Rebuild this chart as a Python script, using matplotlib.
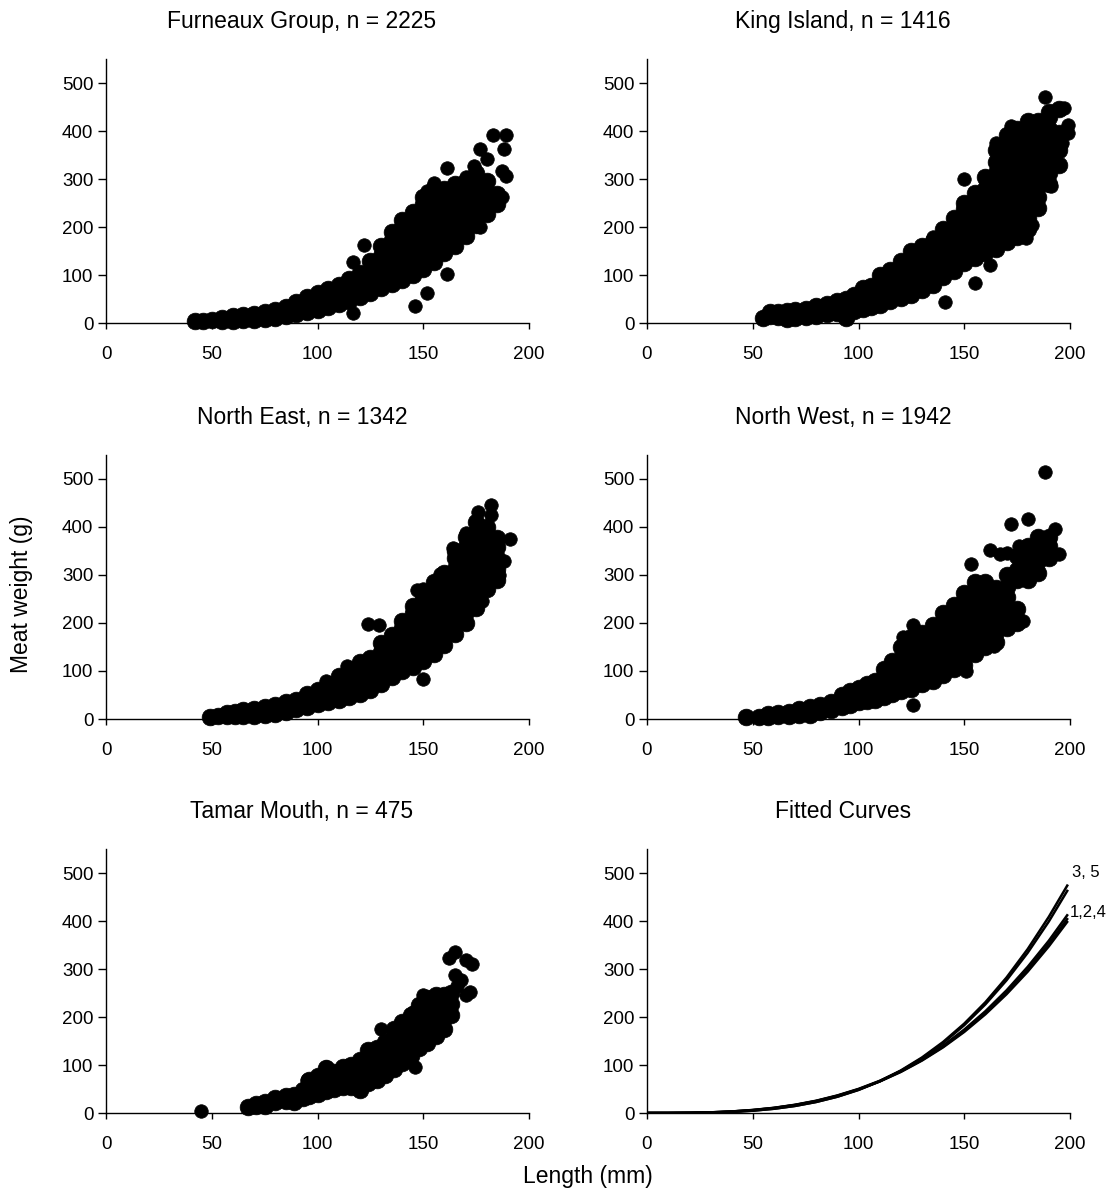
import matplotlib
matplotlib.use("Agg")
import matplotlib.pyplot as plt

plt.rcParams['font.family'] = ['Liberation Sans', 'DejaVu Sans']

# ---------------- data ----------------
titles = ["Furneaux Group, n = 2225", "King Island, n = 1416",
          "North East, n = 1342", "North West, n = 1942",
          "Tamar Mouth, n = 475", "Fitted Curves"]
x_ticks = [0, 50, 100, 150, 200]
y_ticks = [0, 100, 200, 300, 400, 500]

furneaux_core = [
    (42, 4), (46, 5), (50, 6), (55, 5), (55, 10), (60, 5), (60, 14), (65, 6), (65, 16),
    (70, 6), (70, 19), (75, 8), (75, 22), (80, 10), (80, 28), (85, 14), (85, 34),
    (90, 18), (90, 44), (95, 22), (95, 38), (95, 55), (100, 28), (100, 45), (100, 62),
    (105, 33), (105, 52), (105, 70), (110, 40), (110, 60), (110, 80), (115, 46), (115, 70),
    (115, 92), (120, 54), (120, 78), (120, 104), (125, 62), (125, 85), (125, 108), (125, 130),
    (130, 72), (130, 95), (130, 118), (130, 140), (130, 160), (135, 82), (135, 105),
    (135, 128), (135, 150), (135, 172), (135, 190), (140, 90), (140, 112), (140, 135),
    (140, 158), (140, 180), (140, 200), (140, 215), (145, 100), (145, 122), (145, 145),
    (145, 168), (145, 190), (145, 212), (145, 232), (150, 112), (150, 135), (150, 158),
    (150, 180), (150, 202), (150, 225), (150, 248), (150, 262), (155, 128), (155, 150),
    (155, 172), (155, 195), (155, 218), (155, 240), (155, 262), (155, 282), (160, 145),
    (160, 168), (160, 190), (160, 212), (160, 235), (160, 258), (160, 280), (165, 160),
    (165, 182), (165, 205), (165, 228), (165, 250), (165, 272), (165, 290), (170, 182),
    (170, 205), (170, 228), (170, 250), (170, 272), (170, 295), (175, 205), (175, 228),
    (175, 250), (175, 272), (175, 295), (175, 312), (180, 228), (180, 250), (180, 272),
    (180, 295), (185, 248), (185, 268)]
furneaux_outliers = [
    (183, 392), (189, 392), (188, 362), (177, 363), (180, 342), (174, 328), (161, 322),
    (187, 316), (189, 307), (187, 263), (146, 35), (152, 62), (161, 102), (117, 21),
    (122, 162), (117, 128), (177, 200), (170, 305), (155, 292), (152, 275)]

king_core = [
    (55, 10), (58, 15), (58, 22), (62, 12), (62, 22), (66, 8), (66, 26), (70, 10), (70, 28),
    (75, 12), (75, 30), (80, 15), (80, 35), (85, 18), (85, 40), (90, 20), (90, 45), (94, 10),
    (94, 30), (94, 50), (98, 25), (98, 42), (98, 58), (102, 30), (102, 50), (102, 72),
    (106, 34), (106, 55), (106, 78), (110, 38), (110, 60), (110, 85), (110, 100), (115, 45),
    (115, 68), (115, 92), (115, 110), (120, 52), (120, 75), (120, 98), (120, 120), (120, 130),
    (125, 58), (125, 82), (125, 105), (125, 128), (125, 150), (130, 68), (130, 92), (130, 115),
    (130, 138), (130, 160), (135, 80), (135, 102), (135, 125), (135, 148), (135, 170),
    (140, 95), (140, 118), (140, 140), (140, 162), (140, 185), (140, 195), (145, 108),
    (145, 130), (145, 152), (145, 175), (145, 198), (145, 218), (150, 125), (150, 148),
    (150, 170), (150, 192), (150, 215), (150, 238), (150, 250), (155, 135), (155, 158),
    (155, 180), (155, 202), (155, 225), (155, 248), (155, 270), (160, 145), (160, 168),
    (160, 190), (160, 212), (160, 235), (160, 258), (160, 280), (160, 305), (165, 155),
    (165, 178), (165, 200), (165, 222), (165, 245), (165, 268), (165, 290), (165, 312),
    (165, 335), (165, 360), (170, 168), (170, 190), (170, 212), (170, 235), (170, 258),
    (170, 280), (170, 302), (170, 325), (170, 348), (170, 370), (170, 392), (175, 180),
    (175, 202), (175, 225), (175, 248), (175, 270), (175, 292), (175, 315), (175, 338),
    (175, 360), (175, 382), (175, 405), (180, 195), (180, 218), (180, 240), (180, 262),
    (180, 285), (180, 308), (180, 330), (180, 352), (180, 375), (180, 398), (180, 420),
    (185, 240), (185, 262), (185, 285), (185, 308), (185, 330), (185, 352), (185, 375),
    (185, 398), (185, 420), (190, 290), (190, 312), (190, 335), (190, 358), (190, 380),
    (190, 405), (190, 430), (190, 440), (195, 330), (195, 360), (195, 395), (195, 445)]
king_outliers = [
    (188, 470), (197, 448), (199, 412), (199, 395), (196, 375), (193, 327), (191, 285),
    (182, 205), (179, 178), (162, 120), (155, 83), (141, 44), (150, 300), (135, 180),
    (172, 410), (165, 375), (183, 248)]

northeast_core = [
    (49, 5), (53, 7), (57, 6), (57, 12), (61, 6), (61, 15), (65, 6), (65, 18), (70, 6),
    (70, 20), (75, 8), (75, 25), (80, 10), (80, 30), (85, 14), (85, 35), (90, 20), (90, 40),
    (95, 25), (95, 42), (95, 52), (100, 32), (100, 50), (100, 60), (105, 36), (105, 55),
    (105, 72), (110, 40), (110, 60), (110, 80), (110, 90), (115, 46), (115, 68), (115, 90),
    (115, 105), (120, 52), (120, 75), (120, 98), (120, 118), (125, 60), (125, 82), (125, 105),
    (125, 128), (130, 72), (130, 95), (130, 118), (130, 140), (130, 158), (135, 88),
    (135, 110), (135, 132), (135, 155), (135, 175), (140, 100), (140, 122), (140, 145),
    (140, 168), (140, 190), (140, 205), (145, 108), (145, 130), (145, 152), (145, 175),
    (145, 198), (145, 220), (145, 235), (150, 120), (150, 142), (150, 165), (150, 188),
    (150, 210), (150, 232), (150, 255), (150, 265), (155, 135), (155, 158), (155, 180),
    (155, 202), (155, 225), (155, 248), (155, 270), (155, 285), (160, 155), (160, 178),
    (160, 200), (160, 222), (160, 245), (160, 268), (160, 290), (160, 305), (165, 178),
    (165, 200), (165, 222), (165, 245), (165, 268), (165, 290), (165, 312), (165, 335),
    (165, 350), (170, 200), (170, 222), (170, 245), (170, 268), (170, 290), (170, 312),
    (170, 335), (170, 358), (170, 380), (175, 232), (175, 255), (175, 278), (175, 300),
    (175, 322), (175, 345), (175, 368), (175, 390), (175, 410), (180, 270), (180, 292),
    (180, 315), (180, 338), (180, 360), (180, 382), (180, 400), (185, 290), (185, 312),
    (185, 335), (185, 358), (185, 378)]
northeast_outliers = [
    (124, 198), (129, 196), (114, 110), (104, 80), (150, 84), (147, 268), (158, 303),
    (164, 357), (170, 388), (176, 431), (182, 445), (182, 425), (191, 376), (188, 330),
    (186, 300), (178, 245), (150, 270), (146, 225)]

northwest_core = [
    (47, 5), (53, 5), (57, 5), (57, 10), (62, 6), (62, 12), (67, 6), (67, 15), (72, 8),
    (72, 20), (77, 8), (77, 24), (82, 14), (82, 30), (87, 18), (87, 35), (92, 24), (92, 40),
    (92, 50), (96, 30), (96, 48), (96, 58), (100, 36), (100, 52), (100, 65), (104, 38),
    (104, 55), (104, 72), (108, 40), (108, 60), (108, 80), (112, 45), (112, 68), (112, 90),
    (112, 105), (116, 52), (116, 75), (116, 98), (116, 120), (120, 58), (120, 80), (120, 102),
    (120, 125), (120, 150), (125, 62), (125, 85), (125, 108), (125, 130), (125, 155),
    (125, 170), (130, 72), (130, 95), (130, 118), (130, 140), (130, 162), (130, 180),
    (135, 80), (135, 102), (135, 125), (135, 148), (135, 170), (135, 195), (140, 92),
    (140, 115), (140, 138), (140, 160), (140, 182), (140, 205), (140, 220), (145, 105),
    (145, 128), (145, 150), (145, 172), (145, 195), (145, 218), (145, 238), (150, 112),
    (150, 135), (150, 158), (150, 180), (150, 202), (150, 225), (150, 248), (150, 262),
    (155, 135), (155, 158), (155, 180), (155, 202), (155, 225), (155, 248), (155, 270),
    (155, 285), (160, 150), (160, 172), (160, 195), (160, 218), (160, 240), (160, 262),
    (160, 285), (165, 160), (165, 182), (165, 205), (165, 228), (165, 250), (165, 272),
    (170, 190), (170, 210), (170, 232), (170, 255), (170, 275), (170, 300), (175, 200),
    (175, 230), (175, 290), (175, 310), (175, 340), (180, 290), (180, 320), (180, 345),
    (180, 360), (185, 305), (185, 330), (185, 350), (185, 380), (190, 335), (190, 360),
    (190, 380)]
northwest_outliers = [
    (188, 515), (172, 407), (180, 416), (193, 395), (195, 343), (162, 353), (153, 322),
    (167, 343), (121, 171), (126, 196), (126, 29), (151, 99), (164, 153), (178, 204),
    (174, 200), (176, 360), (170, 345)]

tamar_core = [
    (67, 12), (71, 14), (71, 18), (75, 15), (75, 22), (80, 22), (80, 32), (85, 25),
    (85, 35), (89, 22), (89, 38), (93, 32), (93, 48), (96, 36), (96, 55), (96, 68), (100, 40),
    (100, 60), (100, 78), (104, 45), (104, 68), (104, 94), (108, 50), (108, 70), (108, 85),
    (112, 55), (112, 75), (112, 95), (116, 55), (116, 78), (116, 100), (120, 48), (120, 70),
    (120, 92), (120, 110), (124, 62), (124, 85), (124, 108), (124, 132), (128, 68), (128, 90),
    (128, 112), (128, 135), (132, 80), (132, 102), (132, 125), (132, 148), (136, 92),
    (136, 115), (136, 138), (136, 160), (136, 175), (140, 105), (140, 128), (140, 150),
    (140, 172), (140, 190), (144, 118), (144, 140), (144, 162), (144, 185), (144, 205),
    (148, 135), (148, 158), (148, 180), (148, 202), (148, 225), (152, 145), (152, 168),
    (152, 190), (152, 212), (152, 240), (156, 160), (156, 182), (156, 205), (156, 228),
    (156, 245), (160, 175), (160, 198), (160, 220), (160, 245), (163, 205), (163, 228),
    (163, 250)]
tamar_outliers = [
    (45, 5), (146, 96), (130, 176), (104, 96), (95, 69), (162, 323), (165, 336), (170, 318),
    (173, 311), (165, 287), (168, 277), (172, 253), (170, 246), (166, 265), (150, 246),
    (145, 211)]

# fitted curves, values read at these lengths
curve_len = [0, 10, 20, 30, 40, 50, 60, 70, 80, 90, 100, 110, 120, 130, 140, 150, 160, 170, 180, 190, 199]
curve_1 = [0, 0.044, 0.36, 1.25, 3.0, 5.9, 10.3, 16.5, 24.8, 35.6, 49.1, 65.6, 85.5, 109.2, 136.8, 168.9, 205.7, 247.5, 294.5, 347.3, 400]
curve_2 = [0, 0.05, 0.38, 1.3, 3.1, 6.1, 10.5, 16.8, 25.1, 36.0, 49.5, 66.0, 86.2, 110.2, 138.3, 171.0, 208.5, 251.0, 299.0, 352.5, 406]
curve_4 = [0, 0.05, 0.40, 1.35, 3.2, 6.3, 10.8, 17.2, 25.6, 36.6, 50.2, 67.0, 87.5, 112.0, 140.5, 173.8, 212.0, 255.5, 304.5, 359.0, 414]
curve_3 = [0, 0.024, 0.24, 0.9, 2.33, 4.87, 8.89, 14.8, 23.0, 33.9, 48.0, 65.8, 87.6, 114.1, 145.7, 183.0, 226.4, 276.5, 333.9, 399.1, 465]
curve_5 = [0, 0.022, 0.23, 0.88, 2.3, 4.8, 8.8, 14.7, 23.0, 34.0, 48.3, 66.4, 88.6, 115.6, 148.0, 186.2, 230.8, 282.3, 341.5, 408.8, 476]
curves = [curve_1, curve_2, curve_3, curve_4, curve_5]
curve_labels = [("3, 5", 201, 502), ("1,2,4", 200, 417)]

core_sets = [furneaux_core, king_core, northeast_core, northwest_core, tamar_core]
outlier_sets = [furneaux_outliers, king_outliers, northeast_outliers, northwest_outliers,
                tamar_outliers]

# ---------------- layout ----------------
W, H = 1111, 1189
fig = plt.figure(figsize=(W / 100, H / 100), dpi=100)
col_left = [106 / W, 647 / W]
row_bottom = [1 - 323 / H, 1 - 719 / H, 1 - 1113 / H]
ax_w = 423 / W
ax_h = 264 / H

TICK_FS = 13.5
TITLE_FS = 16.5


def draw_points(ax, pts, size):
    xs = [p[0] for p in pts]
    ys = [p[1] for p in pts]
    ax.scatter(xs, ys, s=size, c="black", edgecolors="black", linewidths=0.5,
               clip_on=False, zorder=3)


for i in range(6):
    r, c = divmod(i, 2)
    ax = fig.add_axes([col_left[c], row_bottom[r], ax_w, ax_h])
    ax.set_xlim(0, 200)
    ax.set_ylim(0, 550)
    ax.set_xticks(x_ticks)
    ax.set_yticks(y_ticks)
    for s in ("top", "right"):
        ax.spines[s].set_visible(False)
    for s in ("left", "bottom"):
        ax.spines[s].set_linewidth(1.0)
        ax.spines[s].set_color("black")
    ax.tick_params(axis="x", direction="out", length=4.3, width=1, pad=12.5,
                   labelsize=TICK_FS)
    ax.tick_params(axis="y", direction="out", length=5.5, width=1, pad=3.6,
                   labelsize=TICK_FS)
    ax.set_title(titles[i], fontsize=TITLE_FS, pad=22.5, x=0.463)
    ax.patch.set_alpha(0)

    if i < 5:
        draw_points(ax, core_sets[i], 145)
        draw_points(ax, outlier_sets[i], 95)
    else:
        for cv in curves:
            ax.plot(curve_len, cv, color="black", lw=1.8, solid_capstyle="butt")
        for txt, lx, ly in curve_labels:
            ax.text(lx, ly, txt, fontsize=12, ha="left", va="center", clip_on=False)

fig.text(22 / W, 1 - 594 / H, "Meat weight (g)", rotation=90, ha="center", va="center",
         fontsize=TITLE_FS)
fig.text(588 / W, 1 - 1177 / H, "Length (mm)", ha="center", va="center", fontsize=TITLE_FS)

fig.savefig("out.png", dpi=100, facecolor="white")
